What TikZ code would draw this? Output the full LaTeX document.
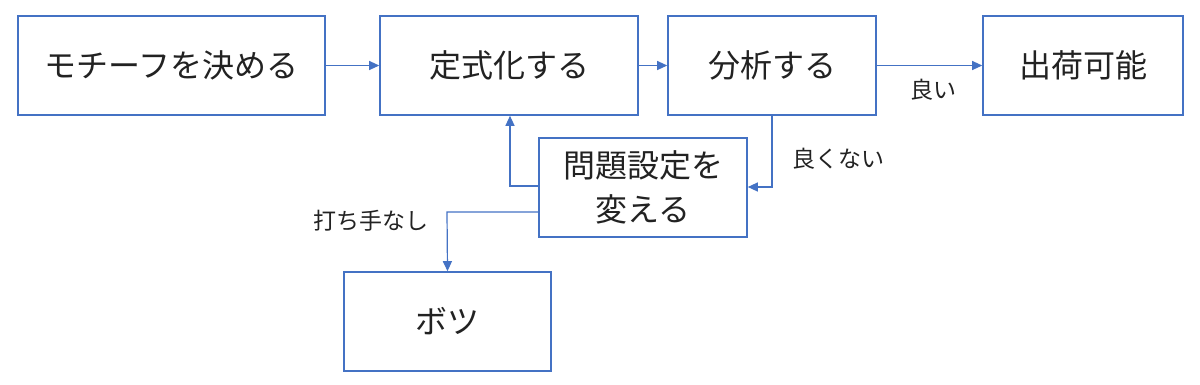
\documentclass[tikz,border=0pt]{standalone}
\usepackage{fontspec}
\setmainfont{Noto Sans CJK JP}
\usetikzlibrary{arrows.meta}
\definecolor{lineblue}{HTML}{4472C4}
\definecolor{txt}{HTML}{222222}
\begin{document}
\begin{tikzpicture}[x=1pt,y=-1pt,
  boxnode/.style={draw=lineblue,line width=1.6pt,minimum width=#1,minimum height=99pt,inner sep=0pt,text=txt,font=\fontsize{32}{44}\selectfont,align=center},
  conn/.style={draw=lineblue,line width=1.2pt,-{Triangle[length=10pt,width=9pt]}},
  lbl/.style={text=txt,font=\fontsize{23}{24}\selectfont,inner sep=0pt}]
\useasboundingbox (0,0) rectangle (1200,384);
\node[boxnode=307pt] (motif) at (171.5,65.5) {モチーフを決める};
\node[boxnode=258pt] (form) at (509,65.5) {定式化する};
\node[boxnode=208pt] (anal) at (772,65.5) {分析する};
\node[boxnode=200pt] (ship) at (1083,65.5) {出荷可能};
\node[boxnode=208pt] (chg) at (643,187.5) {問題設定を\\変える};
\node[boxnode=207pt] (botsu) at (447.5,321.5) {ボツ};
\draw[conn] (motif.east) -- (form.west);
\draw[conn] (form.east) -- (anal.west);
\draw[conn] (anal.east) -- (ship.west);
\node[lbl] (lgood) at (933,90) {良い};
\coordinate (c1) at (772,187);
\draw[conn] (anal.south) -- (c1) -- (chg.east |- c1);
\node[lbl] (lbad) at (838,159) {良くない};
\coordinate (c2) at (510,186);
\draw[conn] (chg.west |- c2) -- (c2) -- (form.south -| c2);
\coordinate (c3) at (447,212);
\draw[conn] (chg.west |- c3) -- (c3) -- (botsu.north);
\node[lbl] (lnone) at (371,221) {打ち手なし};
\end{tikzpicture}
\end{document}
